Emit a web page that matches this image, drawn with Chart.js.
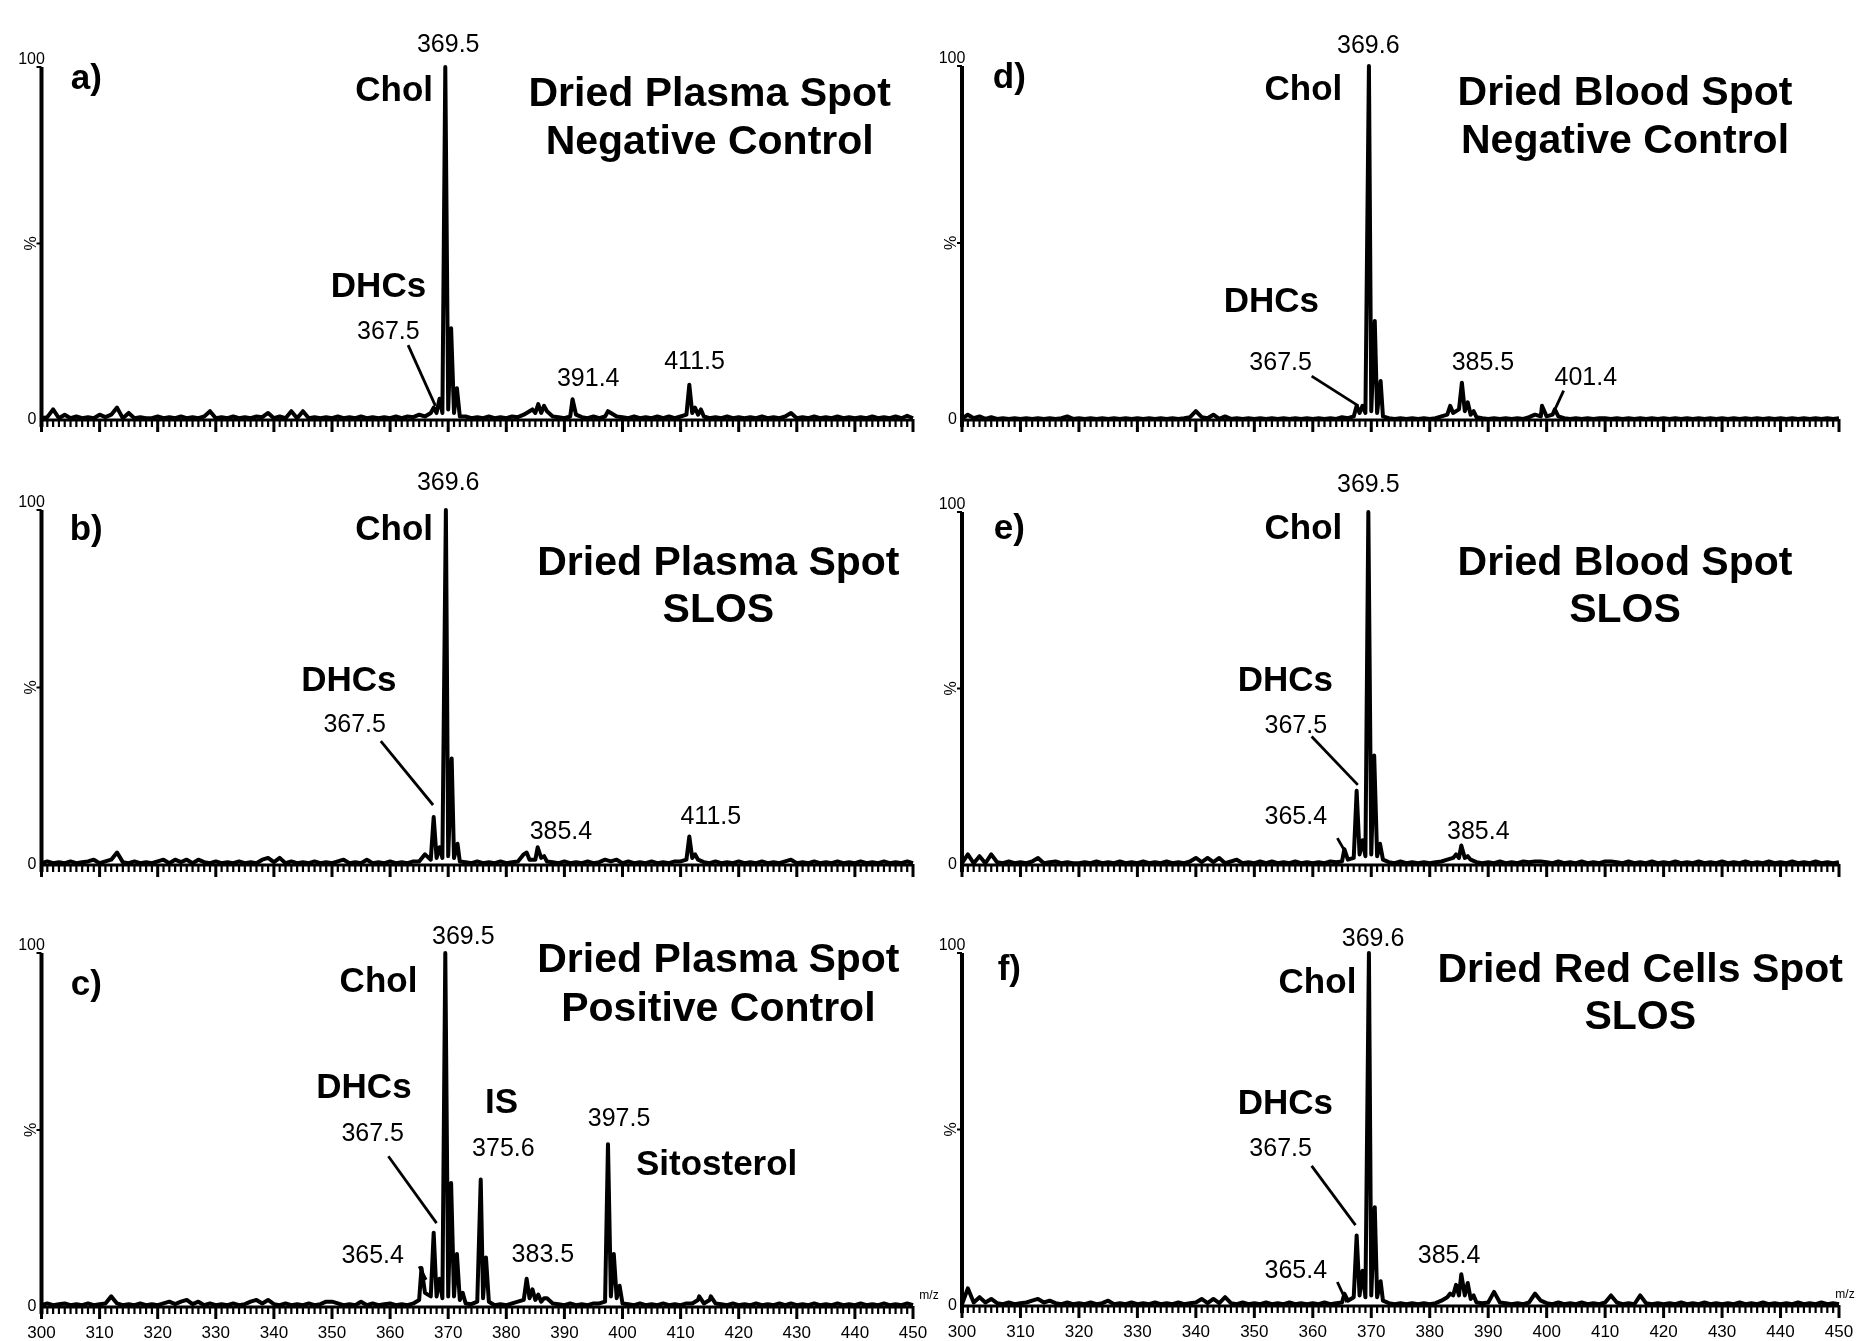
<!DOCTYPE html>
<html>
<head>
<meta charset="utf-8">
<script src="https://cdn.jsdelivr.net/npm/chart.js@4.4.1/dist/chart.umd.min.js"></script>
<style>
  body { margin: 0; background: #fff; }
  #wrap { position: relative; width: 1856px; height: 1341px; overflow: hidden; }
  #wrap canvas { position: absolute; }
</style>
</head>
<body>
<div id="wrap">
  <canvas id="pd" width="928" height="440" style="left:928px; top:0px"></canvas>
  <canvas id="pe" width="928" height="445" style="left:928px; top:440px"></canvas>
  <canvas id="pf" width="928" height="456" style="left:928px; top:885px"></canvas>
  <canvas id="pa" width="945" height="440" style="left:0px; top:0px"></canvas>
  <canvas id="pb" width="945" height="445" style="left:0px; top:440px"></canvas>
  <canvas id="pc" width="945" height="456" style="left:0px; top:885px"></canvas>
</div>
<script>
// m/z axis
const mzMin = 300;
const mzMax = 450;
const mzTicks = [300, 310, 320, 330, 340, 350, 360, 370, 380, 390, 400, 410, 420, 430, 440, 450];

// baseline noise, one value (%) per unit m/z from 300 to 450
const aNoise = [
  0.5,0.8,3,0.5,1.5,0.5,1,0.5,0.8,0.5,
  1.5,0.8,1.5,3.5,0.5,2,0.5,0.8,0.5,0.5,
  1,0.5,0.8,0.5,1,0.5,0.8,0.5,1,2.5,
  0.5,0.8,0.5,1,0.5,0.8,0.5,1,0.8,2,
  0.5,1,0.5,2.5,0.5,2.5,0.5,0.8,0.5,0.8,
  0.5,1,0.5,0.8,0.5,1,0.5,0.8,0.5,0.8,
  0.5,1,0.5,1,0.8,1.5,1,2,2,2,
  3,2,1,1,0.5,0.8,0.5,1,0.5,0.8,
  0.5,1,0.8,1.5,2.5,2,2,2.5,1,0.8,
  0.5,1,1.5,0.8,0.5,1,0.5,1,2,1,
  0.8,0.5,1,0.5,0.8,0.5,1,0.5,1,0.5,
  1,1.5,2,1.5,1,0.5,0.8,0.5,1,0.5,
  0.8,0.5,0.8,0.5,1,0.5,0.8,0.5,1,2,
  0.5,0.8,0.5,1,0.5,0.8,0.5,1,0.5,0.8,
  0.5,0.8,0.5,1,0.5,0.8,0.5,1,0.5,1.2,
  0.5
];
const aPeakMz  = [367.5, 368.5, 369.5, 370.5, 371.5, 384.5, 385.5, 386.5, 391.4, 397.5, 411.5, 412.5, 413.5];
const aPeakInt = [3.5, 6, 100, 26, 9, 3, 4.5, 4, 5.9, 2.5, 10, 3.5, 3];

const bNoise = [
  0.5,1,0.5,0.8,0.5,1,0.5,0.8,1,1.5,
  0.5,1,1.5,3.5,0.8,0.5,1,0.5,0.8,0.5,
  1,1.5,0.5,1.5,0.8,1.5,0.5,1.5,0.8,0.5,
  1,0.5,0.8,0.5,1,0.5,0.8,0.5,1.5,2,
  0.8,2,0.5,1,0.5,0.8,0.5,1,0.5,0.8,
  0.5,1,1.5,0.5,0.8,0.5,1.5,0.5,0.8,0.5,
  1,0.5,0.8,0.5,1,1,3,1.5,2,2,
  2.5,2,1,0.8,0.5,1,0.5,0.8,0.5,1,
  0.5,0.8,1,3,1.5,1.5,2,1,0.8,0.5,
  1,0.5,0.8,0.5,1,0.5,0.8,1.5,1,1.5,
  0.5,1,0.5,0.8,0.5,1,0.5,0.8,0.5,1,
  1,1.5,2,1.5,0.8,0.5,1,0.5,0.8,0.5,
  1,0.5,0.8,0.5,1,0.5,0.8,0.5,1,1.5,
  0.5,0.8,0.5,1,0.5,0.8,0.5,1,0.5,0.8,
  0.5,1,0.5,0.8,0.5,1,0.5,0.8,0.5,1,
  0.5
];
const bPeakMz  = [367.5, 368.5, 369.6, 370.6, 371.6, 383.5, 385.4, 386.5, 411.5, 412.5];
const bPeakInt = [13.5, 5, 100, 30, 6, 3.5, 5, 2.5, 8, 3];

const cNoise = [
  0.5,1,0.5,0.8,1,0.5,0.8,0.5,1,0.5,
  0.8,1,3,1,0.5,0.8,0.5,1,0.5,0.8,
  0.5,1,1.5,0.8,1.5,2,0.8,1.5,0.5,1,
  0.5,0.8,0.5,1,0.5,0.8,1.5,2,1,2,
  0.8,0.5,1,0.5,0.8,0.5,1,0.5,0.8,1.5,
  1.5,1,0.5,0.8,0.5,1.5,0.5,1,0.5,0.8,
  1,0.5,0.8,0.5,1,2,4,3,3,2.5,
  3,3,2,1,0.8,1.5,2.5,1.5,0.5,0.8,
  0.5,1,1.5,2,2.5,2,1.5,2.5,1,0.8,
  0.5,1,0.5,0.8,0.5,1,1,1.5,3,2.5,
  1,0.8,0.5,1,0.5,0.8,0.5,1,0.5,0.8,
  0.5,1,1,2,1,2,1,0.8,0.5,1,
  0.5,0.8,0.5,1,0.5,0.8,0.5,1,0.5,1,
  0.5,0.8,0.5,1,0.5,0.8,0.5,1,0.5,0.8,
  0.5,1,0.5,0.8,0.5,1,0.5,0.8,0.5,1,
  0.5
];
const cPeakMz  = [365.4, 367.5, 368.5, 369.5, 370.5, 371.5, 372.5, 375.6, 376.5, 383.5, 384.5, 385.5, 386.5, 397.5, 398.5, 399.5, 413.2, 415.2];
const cPeakInt = [11, 21, 8, 100, 35, 15, 4, 36, 14, 8, 5, 3.5, 2.5, 46, 15, 6, 3, 3];

const dNoise = [
  0.3,1.5,0.5,1,0.3,0.8,0.3,0.5,0.3,0.5,
  0.3,0.5,0.3,0.5,0.3,0.5,0.3,0.5,1,0.3,
  0.5,0.3,0.5,0.3,0.5,0.3,0.5,0.3,0.5,0.3,
  0.5,0.3,0.5,0.3,0.5,0.3,0.5,0.3,0.5,0.8,
  2.5,0.8,0.5,1.5,0.3,1,0.3,0.5,0.3,0.5,
  0.3,0.5,0.3,0.5,0.3,0.5,0.3,0.5,0.3,0.5,
  0.3,0.5,0.3,0.5,0.3,0.8,0.5,1,2,2,
  2.5,2,1,0.5,0.3,0.5,0.3,0.5,0.3,0.5,
  0.3,0.5,1,1.5,2,3,2.5,1.5,0.8,0.5,
  0.3,0.5,0.3,0.5,0.3,0.5,0.3,0.8,1.5,1,
  1,1.5,1,0.5,0.3,0.5,0.3,0.5,0.3,0.5,
  0.5,0.3,0.5,0.3,0.5,0.3,0.5,0.3,0.5,0.3,
  0.5,0.3,0.5,0.3,0.5,0.3,0.5,0.3,0.5,0.3,
  0.5,0.3,0.5,0.3,0.5,0.3,0.5,0.3,0.5,0.3,
  0.5,0.3,0.5,0.3,0.5,0.3,0.5,0.3,0.5,0.3,
  0.5
];
const dPeakMz  = [367.5, 368.5, 369.6, 370.6, 371.6, 383.5, 385.5, 386.5, 387.5, 399.2, 401.4];
const dPeakInt = [4, 4, 100, 28, 11, 4, 10.5, 5, 2.5, 4, 3];

const eNoise = [
  0.5,3,0.5,2.5,0.5,3,0.8,0.5,1,0.5,
  0.8,0.5,1,2,0.5,0.8,1,0.5,0.8,0.5,
  0.5,0.8,0.5,1,0.5,0.8,0.5,1,0.5,0.8,
  0.5,1,0.5,0.8,0.5,1,0.5,0.8,0.5,1,
  2,0.8,2,0.8,2,0.5,1,1.5,0.5,0.8,
  0.5,1,0.5,1,0.5,0.8,0.5,1,0.5,0.8,
  0.5,0.8,0.5,1,0.8,1,1.5,2,3,2.5,
  3,2.5,1.5,0.8,0.5,1,0.5,0.8,0.5,0.8,
  0.5,0.8,1,1.5,2,2,2,1.5,0.8,0.5,
  0.8,0.5,1,0.5,0.8,0.5,1,0.8,1,1,
  0.8,0.5,1,0.5,0.8,0.5,1,0.5,0.8,0.5,
  1,1,0.8,0.5,1,0.5,0.8,0.5,1,0.5,
  0.8,0.5,1,0.5,0.8,0.5,1,0.5,0.8,0.5,
  1,0.5,0.8,0.5,1,0.5,0.8,0.5,1,0.5,
  0.8,0.5,1,0.5,0.8,0.5,1,0.5,0.8,0.5,
  0.8
];
const ePeakMz  = [365.4, 367.5, 368.5, 369.5, 370.5, 371.5, 384.5, 385.4, 386.5];
const ePeakInt = [4.5, 21, 7, 100, 31, 6, 3, 5.5, 2.5];

const fNoise = [
  0.5,5,1,2.5,1,2,0.8,0.5,1,0.5,
  0.8,1,1.5,2,1,1.5,0.8,0.5,1,0.5,
  0.8,0.5,1,0.5,0.8,1.5,0.5,0.8,0.5,1,
  0.5,0.8,0.5,1,0.5,0.8,0.5,1,0.5,0.8,
  1,2,0.8,2,0.8,2.5,0.8,0.5,1,0.5,
  0.8,0.5,1,0.5,0.8,0.5,1,0.5,0.8,0.5,
  0.8,0.5,1,0.5,0.8,1,1.5,2.5,3,2.5,
  3,2.5,1.5,0.8,0.5,0.8,0.5,0.8,0.5,0.8,
  0.5,0.8,1.5,2.5,3,3,3,2,1,0.8,
  1,4,1,0.8,0.5,0.8,0.5,1,3.5,1.5,
  0.8,0.5,1,0.5,0.8,0.5,1,0.5,0.8,0.5,
  1,3,1,0.5,0.8,0.5,3,0.8,0.5,0.8,
  0.5,0.8,0.5,1,0.5,0.8,0.5,1,0.5,0.8,
  0.5,0.8,0.5,1,0.5,0.8,0.5,1,0.5,0.8,
  0.5,0.8,0.5,1,0.5,0.8,0.5,1,0.5,0.8,
  0.5
];
const fPeakMz  = [365.4, 367.5, 368.5, 369.6, 370.6, 371.6, 383.5, 384.5, 385.4, 386.5, 387.5];
const fPeakInt = [3.5, 20, 10, 100, 28, 7, 3.5, 6, 9, 6.5, 3];

// text labels: [text, m/z, %, kind]  kind: tag = bold label, title = bold heading, num = peak value
const aLabels = [
  ['a)', 307.7, 96.5, 'tag'], ['369.5', 370.0, 106.2, 'num'], ['Chol', 360.7, 93.2, 'tag'],
  ['Dried Plasma Spot', 415.0, 92.2, 'title'], ['Negative Control', 415.0, 78.7, 'title'],
  ['DHCs', 358.0, 37.5, 'tag'], ['367.5', 359.7, 24.8, 'num'],
  ['391.4', 394.1, 11.7, 'num'], ['411.5', 412.4, 16.4, 'num']
];
const bLabels = [
  ['b)', 307.7, 94.3, 'tag'], ['369.6', 370.0, 107.6, 'num'], ['Chol', 360.7, 94.3, 'tag'],
  ['Dried Plasma Spot', 416.5, 85.0, 'title'], ['SLOS', 416.5, 71.6, 'title'],
  ['DHCs', 352.9, 51.6, 'tag'], ['367.5', 353.9, 39.3, 'num'],
  ['385.4', 389.4, 9.3, 'num'], ['411.5', 415.2, 13.6, 'num']
];
const cLabels = [
  ['c)', 307.7, 91.0, 'tag'], ['369.5', 372.6, 104.5, 'num'], ['Chol', 358.0, 91.6, 'tag'],
  ['Dried Plasma Spot', 416.5, 97.7, 'title'], ['Positive Control', 416.5, 84.0, 'title'],
  ['DHCs', 355.5, 61.7, 'tag'], ['IS', 379.2, 57.4, 'tag'], ['367.5', 357.0, 48.9, 'num'],
  ['375.6', 379.5, 44.7, 'num'], ['397.5', 399.4, 53.2, 'num'], ['Sitosterol', 416.2, 39.9, 'tag'],
  ['365.4', 357.0, 14.4, 'num'], ['383.5', 386.3, 14.6, 'num']
];
const dLabels = [
  ['d)', 308.1, 96.5, 'tag'], ['369.6', 369.5, 105.6, 'num'], ['Chol', 358.4, 93.2, 'tag'],
  ['Dried Blood Spot', 413.4, 92.2, 'title'], ['Negative Control', 413.4, 78.7, 'title'],
  ['DHCs', 352.9, 33.1, 'tag'], ['367.5', 354.5, 16.0, 'num'],
  ['385.5', 389.1, 16.0, 'num'], ['401.4', 406.7, 11.7, 'num']
];
const eLabels = [
  ['e)', 308.1, 95.0, 'tag'], ['369.5', 369.5, 107.6, 'num'], ['Chol', 358.4, 95.0, 'tag'],
  ['Dried Blood Spot', 413.4, 85.4, 'title'], ['SLOS', 413.4, 72.0, 'title'],
  ['DHCs', 355.3, 51.9, 'tag'], ['367.5', 357.1, 39.4, 'num'],
  ['365.4', 357.1, 13.6, 'num'], ['385.4', 388.3, 9.3, 'num']
];
const fLabels = [
  ['f)', 308.1, 95.0, 'tag'], ['369.6', 370.3, 104.0, 'num'], ['Chol', 360.8, 91.3, 'tag'],
  ['Dried Red Cells Spot', 416.0, 94.9, 'title'], ['SLOS', 416.0, 81.6, 'title'],
  ['DHCs', 355.3, 57.1, 'tag'], ['367.5', 354.5, 44.4, 'num'],
  ['365.4', 357.1, 9.8, 'num'], ['385.4', 383.3, 14.2, 'num']
];

// leader lines: [m/z1, %1, m/z2, %2]
const aLeaders = [[363.1, 21.2, 367.8, 4.0]];
const bLeaders = [[358.4, 34.9, 367.4, 16.9]];
const cLeaders = [[359.7, 42.6, 368.0, 23.7], [365.0, 11.5, 366.2, 7.7]];
const dLeaders = [[359.8, 12.4, 367.8, 4.0], [402.9, 8.3, 401.3, 2.6]];
const eLeaders = [[359.8, 36.4, 367.7, 22.7], [364.2, 7.6, 365.6, 3.6]];
const fLeaders = [[359.8, 39.7, 367.3, 22.9], [364.2, 6.8, 365.8, 1.1]];

const FONT = '"Liberation Sans", Arial, Helvetica, sans-serif';
const labelFonts = {
  tag: 'bold 35px ' + FONT,
  title: 'bold 41px ' + FONT,
  num: '25px ' + FONT
};

/*
*   Merges the per-unit baseline noise with the peak list into one sorted profile
*/
function buildProfile(noise, peakMz, peakInt) {
  const pts = noise.map((v, i) => ({ x: mzMin + i, y: v }));
  peakMz.forEach((m, i) => pts.push({ x: m, y: peakInt[i] }));
  pts.sort((p, q) => p.x - q.x);
  return pts;
}

/*
*   Draws axes, ruler ticks, axis texts, peak labels and leader lines
*/
const spectrumDecor = {
  id: 'spectrumDecor',
  afterDatasetsDraw(chart, args, opts) {
    const ctx = chart.ctx;
    const x = chart.scales.x;
    const y = chart.scales.y;
    const x0 = x.getPixelForValue(mzMin);
    const x1 = x.getPixelForValue(mzMax);
    const y0 = y.getPixelForValue(0);
    const yTop = y.getPixelForValue(100);
    const yMid = y.getPixelForValue(50);

    ctx.save();
    ctx.strokeStyle = '#000';
    ctx.fillStyle = '#000';
    ctx.lineCap = 'butt';

    // x ruler
    ctx.lineWidth = 3;
    ctx.beginPath(); ctx.moveTo(x0, y0); ctx.lineTo(x1, y0); ctx.stroke();
    for (let m = mzMin; m <= mzMax; m++) {
      const px = x.getPixelForValue(m);
      const major = mzTicks.includes(m);
      ctx.lineWidth = major ? 3 : 2.2;
      ctx.beginPath(); ctx.moveTo(px, y0 - 1); ctx.lineTo(px, y0 + (major ? 12 : 7)); ctx.stroke();
    }

    // y axis
    ctx.lineWidth = 4;
    ctx.beginPath(); ctx.moveTo(x0, yTop); ctx.lineTo(x0, y0 + 7); ctx.stroke();
    ctx.lineWidth = 2;
    [yTop, yMid].forEach(py => {
      ctx.beginPath(); ctx.moveTo(x0 - 5, py); ctx.lineTo(x0, py); ctx.stroke();
    });

    ctx.font = '16px ' + FONT;
    ctx.textAlign = 'center';
    ctx.textBaseline = 'middle';
    ctx.fillText('100', x0 - 10, yTop - 7);
    ctx.textAlign = 'right';
    ctx.fillText('0', x0 - 5, y0);
    ctx.save();
    ctx.translate(x0 - 10, yMid);
    ctx.rotate(-Math.PI / 2);
    ctx.textAlign = 'center';
    ctx.fillText('%', 0, 0);
    ctx.restore();

    // tick labels and m/z on bottom panels
    if (opts.tickLabels) {
      ctx.font = '17px ' + FONT;
      ctx.textAlign = 'center';
      ctx.textBaseline = 'middle';
      mzTicks.forEach(m => ctx.fillText(String(m), x.getPixelForValue(m), y0 + 26));
      ctx.font = '12px ' + FONT;
      ctx.fillText('m/z', x1 + opts.mzOffset, y0 - 11);
    }

    // leader lines
    ctx.lineWidth = 2.8;
    opts.leaders.forEach(l => {
      ctx.beginPath();
      ctx.moveTo(x.getPixelForValue(l[0]), y.getPixelForValue(l[1]));
      ctx.lineTo(x.getPixelForValue(l[2]), y.getPixelForValue(l[3]));
      ctx.stroke();
    });

    // labels
    ctx.textAlign = 'center';
    ctx.textBaseline = 'middle';
    opts.labels.forEach(l => {
      ctx.font = labelFonts[l[3]];
      ctx.fillText(l[0], x.getPixelForValue(l[1]), y.getPixelForValue(l[2]));
    });

    ctx.restore();
  }
};

function makeSpectrum(id, noise, peakMz, peakInt, labels, leaders, pad, bottomPanel, mzOffset) {
  const ctx = document.getElementById(id).getContext('2d');
  return new Chart(ctx, {
    type: 'line',
    data: {
      datasets: [{
        data: buildProfile(noise, peakMz, peakInt),
        borderColor: '#000',
        borderWidth: 4,
        pointRadius: 0,
        tension: 0,
        fill: false,
        clip: false,
        borderJoinStyle: 'round'
      }]
    },
    options: {
      responsive: false,
      animation: false,
      events: [],
      layout: { padding: pad },
      plugins: {
        legend: { display: false },
        tooltip: { enabled: false },
        spectrumDecor: { labels: labels, leaders: leaders, tickLabels: bottomPanel, mzOffset: mzOffset || 0 }
      },
      scales: {
        x: { type: 'linear', min: mzMin, max: mzMax, display: false },
        y: { type: 'linear', min: 0, max: 100, display: false }
      }
    },
    plugins: [spectrumDecor]
  });
}

makeSpectrum('pa', aNoise, aPeakMz, aPeakInt, aLabels, aLeaders, { left: 41.5, right: 32, top: 67, bottom: 20 }, false);
makeSpectrum('pb', bNoise, bPeakMz, bPeakInt, bLabels, bLeaders, { left: 41.5, right: 32, top: 70, bottom: 20 }, false);
makeSpectrum('pc', cNoise, cPeakMz, cPeakInt, cLabels, cLeaders, { left: 41.5, right: 32, top: 68, bottom: 34 }, true, 16);
makeSpectrum('pd', dNoise, dPeakMz, dPeakInt, dLabels, dLeaders, { left: 34, right: 17, top: 66, bottom: 20 }, false);
makeSpectrum('pe', eNoise, ePeakMz, ePeakInt, eLabels, eLeaders, { left: 34, right: 17, top: 72, bottom: 20 }, false);
makeSpectrum('pf', fNoise, fPeakMz, fPeakInt, fLabels, fLeaders, { left: 34, right: 17, top: 68, bottom: 35 }, true, 6);
</script>
</body>
</html>
